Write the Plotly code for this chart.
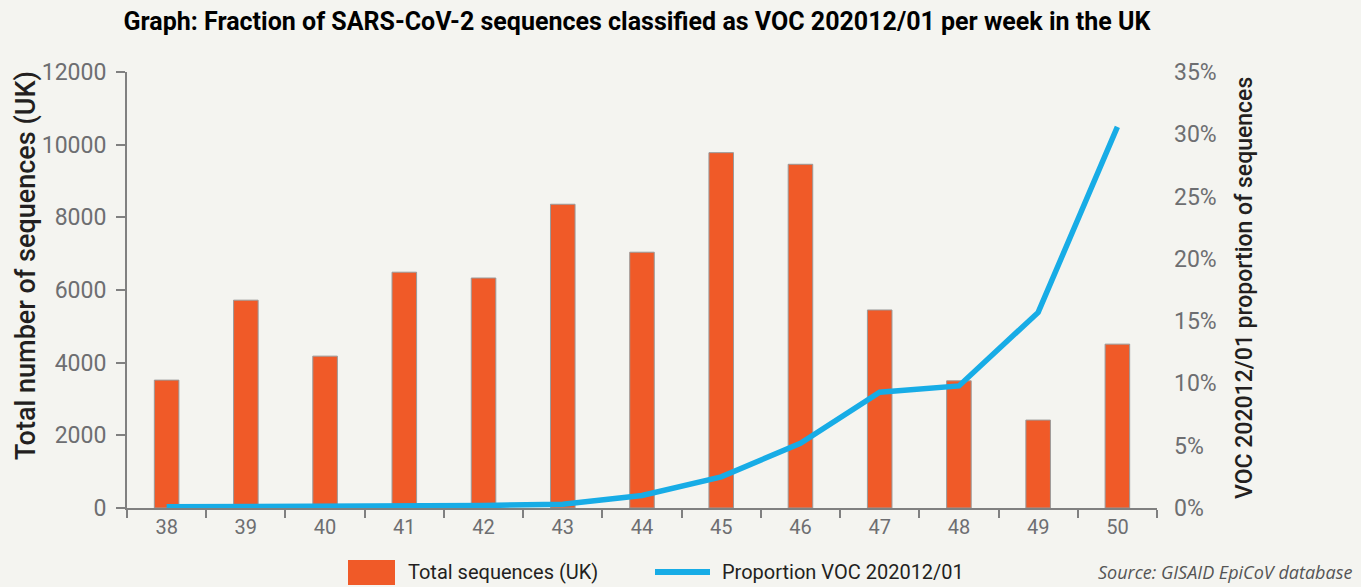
import plotly.graph_objects as go

weeks = ["38", "39", "40", "41", "42", "43", "44", "45", "46", "47", "48", "49", "50"]
total_sequences = [3520, 5720, 4180, 6490, 6330, 8360, 7040, 9780, 9460, 5450, 3500, 2420, 4510]
voc_proportion = [0.1, 0.1, 0.2, 0.2, 0.2, 0.3, 1.0, 2.5, 5.2, 9.3, 9.8, 15.7, 30.6]
left_ticks = [0, 2000, 4000, 6000, 8000, 10000, 12000]
right_ticks = [0, 5, 10, 15, 20, 25, 30, 35]

BAR_COLOR = "#f05a28"
LINE_COLOR = "#17ace6"
narrow = "Roboto, sans-serif"
gray = "#6d6e71"

# plot area in pixels: left 127, right 1157, top 72, bottom 508
L, R, T, B = 127, 1157, 72, 508
def px(x):
    return (x - L) / (R - L)
def py(y):
    return (B - y) / (B - T)

fig = go.Figure()
fig.add_trace(go.Bar(
    x=weeks, y=total_sequences, name="Total sequences (UK)",
    marker=dict(color=BAR_COLOR, line=dict(color="#9a9a9a", width=1)),
    width=0.31, showlegend=False,
))
fig.add_trace(go.Scatter(
    x=weeks, y=voc_proportion, name="Proportion VOC 202012/01", yaxis="y2",
    mode="lines", line=dict(color=LINE_COLOR, width=5.5), showlegend=False,
))

shapes = [
    dict(type="rect", xref="paper", yref="paper", x0=px(348), x1=px(395), y0=py(560), y1=py(585),
         fillcolor=BAR_COLOR, line=dict(width=0)),
    dict(type="line", xref="paper", yref="paper", x0=px(655), x1=px(710), y0=py(572), y1=py(572),
         line=dict(color=LINE_COLOR, width=6)),
]

fig.update_layout(
    width=1361, height=587,
    margin=dict(l=L, r=1361 - R, t=T, b=587 - B, autoexpand=False),
    paper_bgcolor="#f4f4f0", plot_bgcolor="rgba(0,0,0,0)",
    showlegend=False,
    shapes=shapes,
    xaxis=dict(
        type="category", tickson="boundaries", ticks="outside", ticklen=8,
        tickcolor="#808080", tickwidth=2, showline=True, linecolor="#808080", linewidth=2,
        tickfont=dict(family=narrow, size=20, color=gray), showgrid=False, automargin=False,
    ),
    yaxis=dict(
        range=[0, 12000], tickvals=left_ticks, ticktext=[str(v) for v in left_ticks],
        ticks="outside", ticklen=9, ticklabelstandoff=5,
        tickcolor="#808080", tickwidth=2, showline=True, linecolor="#808080", linewidth=2,
        tickfont=dict(family=narrow, size=23, color=gray), showgrid=False, zeroline=False,
        automargin=False,
    ),
    yaxis2=dict(
        range=[0, 35], tickvals=right_ticks, ticktext=[f"{v}%" for v in right_ticks],
        overlaying="y", side="right", showline=False, showgrid=False, zeroline=False,
        tickfont=dict(family=narrow, size=23, color=gray), ticks="", ticklabelstandoff=16,
        automargin=False,
    ),
    title=dict(
        text="<b>Graph: Fraction of SARS-CoV-2 sequences classified as VOC 202012/01 per week in the UK</b>",
        x=0.468, xanchor="center", y=1 - 21 / 587, yanchor="middle",
        font=dict(family="Roboto, sans-serif", size=25, color="#000000"),
    ),
    annotations=[
        dict(text="Total number of sequences (UK)", textangle=-90, xref="paper", yref="paper",
             x=px(26), y=py(266), xanchor="center", yanchor="middle", showarrow=False,
             font=dict(family=narrow, size=27, color="#231f20", weight=500)),
        dict(text="VOC 202012/01 proportion of sequences", textangle=-90, xref="paper", yref="paper",
             x=px(1244), y=py(288), xanchor="center", yanchor="middle", showarrow=False,
             font=dict(family=narrow, size=23, color="#231f20", weight=500)),
        dict(text="Total sequences (UK)", xref="paper", yref="paper",
             x=px(406), y=py(572), xanchor="left", yanchor="middle", showarrow=False,
             font=dict(family=narrow, size=20, color="#231f20")),
        dict(text="Proportion VOC 202012/01", xref="paper", yref="paper",
             x=px(720), y=py(572), xanchor="left", yanchor="middle", showarrow=False,
             font=dict(family=narrow, size=20, color="#231f20")),
        dict(text="<i>Source: GISAID EpiCoV database</i>", xref="paper", yref="paper",
             x=px(1354), y=py(572), xanchor="right", yanchor="middle", showarrow=False,
             font=dict(family="Open Sans, sans-serif", size=18, color="#555555")),
    ],
)

fig.write_html(
    "out.html",
    config={"displayModeBar": False},
    post_script="document.body.style.margin='0';document.body.style.overflow='hidden';",
)
